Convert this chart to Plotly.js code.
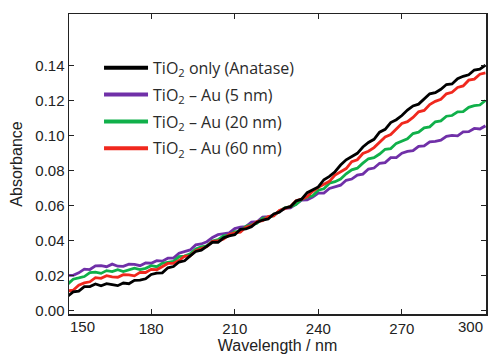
<!DOCTYPE html>
<html>
<head>
<meta charset="utf-8">
<script src="https://cdn.plot.ly/plotly-3.0.1.min.js"></script>
<style>html,body{margin:0;padding:0;background:#fff;}#chart{width:488px;height:354px;}</style>
</head>
<body>
<div id="chart"></div>
<script>
// Wavelength (nm)
const wavelength = [150,152,154,156,158,160,162,164,166,168,170,172,174,176,178,180,182,184,186,188,
  190,192,194,196,198,200,202,204,206,208,210,212,214,216,218,220,222,224,226,228,
  230,232,234,236,238,240,242,244,246,248,250,252,254,256,258,260,262,264,266,268,
  270,272,274,276,278,280,282,284,286,288,290,292,294,296,298,300];

// TiO2 only (Anatase)
const absAnatase = [0.0082,0.0107,0.0112,0.0137,0.0138,0.0153,0.0142,0.0154,0.0149,0.0143,
  0.0158,0.0154,0.0173,0.0174,0.0182,0.0207,0.0214,0.0216,0.0245,0.0252,
  0.0278,0.0285,0.0313,0.0338,0.0346,0.0366,0.0391,0.0391,0.0416,0.0427,
  0.0434,0.0464,0.0467,0.0480,0.0506,0.0518,0.0524,0.0553,0.0563,0.0587,
  0.0594,0.0627,0.0637,0.0674,0.0692,0.0707,0.0748,0.0767,0.0794,0.0832,
  0.0862,0.0880,0.0899,0.0935,0.0961,0.0979,0.1020,0.1036,0.1075,0.1091,
  0.1115,0.1146,0.1170,0.1180,0.1211,0.1239,0.1246,0.1265,0.1292,0.1295,
  0.1325,0.1339,0.1348,0.1375,0.1380,0.1403];

// TiO2 - Au (5 nm)
const absAu5 = [0.0202,0.0202,0.0216,0.0237,0.0235,0.0256,0.0257,0.0251,0.0266,0.0254,
  0.0253,0.0266,0.0264,0.0257,0.0273,0.0271,0.0286,0.0283,0.0300,0.0300,
  0.0328,0.0339,0.0347,0.0376,0.0381,0.0394,0.0418,0.0434,0.0438,0.0445,
  0.0469,0.0477,0.0480,0.0506,0.0508,0.0534,0.0537,0.0545,0.0568,0.0584,
  0.0587,0.0611,0.0632,0.0633,0.0649,0.0672,0.0672,0.0698,0.0709,0.0717,
  0.0745,0.0752,0.0775,0.0780,0.0809,0.0815,0.0842,0.0846,0.0874,0.0875,
  0.0900,0.0910,0.0914,0.0939,0.0941,0.0965,0.0967,0.0974,0.0996,0.1001,
  0.0999,0.1022,0.1023,0.1041,0.1038,0.1056];

// TiO2 - Au (20 nm)
const absAu20 = [0.0151,0.0180,0.0187,0.0195,0.0217,0.0220,0.0213,0.0229,0.0223,0.0234,
  0.0224,0.0235,0.0243,0.0235,0.0242,0.0257,0.0251,0.0271,0.0278,0.0282,
  0.0309,0.0312,0.0325,0.0352,0.0364,0.0370,0.0398,0.0406,0.0428,0.0431,
  0.0451,0.0453,0.0482,0.0492,0.0499,0.0527,0.0531,0.0543,0.0568,0.0587,
  0.0594,0.0606,0.0635,0.0648,0.0656,0.0688,0.0696,0.0728,0.0737,0.0752,
  0.0782,0.0805,0.0814,0.0843,0.0868,0.0874,0.0895,0.0922,0.0926,0.0956,
  0.0971,0.0982,0.1012,0.1020,0.1044,0.1050,0.1079,0.1084,0.1111,0.1115,
  0.1136,0.1137,0.1162,0.1171,0.1175,0.1201];

// TiO2 - Au (60 nm)
const absAu60 = [0.0113,0.0117,0.0146,0.0159,0.0165,0.0189,0.0185,0.0200,0.0193,0.0191,
  0.0206,0.0205,0.0199,0.0219,0.0218,0.0236,0.0234,0.0254,0.0270,0.0271,
  0.0286,0.0311,0.0313,0.0342,0.0356,0.0366,0.0396,0.0398,0.0410,0.0435,
  0.0444,0.0449,0.0477,0.0486,0.0509,0.0514,0.0537,0.0541,0.0572,0.0584,
  0.0595,0.0628,0.0637,0.0652,0.0682,0.0705,0.0720,0.0739,0.0775,0.0796,
  0.0812,0.0851,0.0862,0.0898,0.0911,0.0932,0.0965,0.0993,0.1006,0.1040,
  0.1070,0.1080,0.1104,0.1136,0.1144,0.1178,0.1196,0.1208,0.1239,0.1248,
  0.1275,0.1284,0.1317,0.1323,0.1351,0.1358];

const seriesNames = ['TiO<sub>2</sub> only (Anatase)', 'TiO<sub>2</sub> – Au (5 nm)',
                     'TiO<sub>2</sub> – Au (20 nm)', 'TiO<sub>2</sub> – Au (60 nm)'];
const seriesColors = ['#000000', '#7030a8', '#10b04a', '#f0281e'];
const seriesData = [absAnatase, absAu5, absAu20, absAu60];

const xTickVals = [180, 210, 240, 270];
const edgeTickLabels = ['150', '300'];
const edgeTickPos = [155.5, 294.6];
const yTickVals = [0, 0.02, 0.04, 0.06, 0.08, 0.10, 0.12, 0.14];

const tickFont = {family: 'Liberation Sans, Arial, sans-serif', size: 15, color: '#222'};

const traces = [];
// data traces (drawn: purple, green, red, black on top)
[1, 2, 3, 0].forEach(function (k) {
  traces.push({
    x: wavelength, y: seriesData[k], type: 'scatter', mode: 'lines',
    line: {color: seriesColors[k], width: 2.8}, showlegend: false, hoverinfo: 'skip'
  });
});
// legend entries
[0, 1, 2, 3].forEach(function (k) {
  traces.push({
    x: [null], y: [null], type: 'scatter', mode: 'lines', name: seriesNames[k],
    legendgroup: 'g' + k, line: {color: seriesColors[k], width: 4}
  });
});

const layout = {
  width: 488, height: 354,
  margin: {l: 69, r: 2, t: 14, b: 40, pad: 0},
  paper_bgcolor: '#fff', plot_bgcolor: '#fff',
  showlegend: true,
  legend: {
    x: 0.072, y: 0.877, xanchor: 'left', yanchor: 'top',
    bgcolor: 'rgba(0,0,0,0)', borderwidth: 0,
    font: {family: 'Open Sans, sans-serif', size: 16, color: '#2a2a2a'},
    traceorder: 'grouped', tracegroupgap: 3, itemwidth: 44
  },
  xaxis: {
    range: [150.5, 300.2], tickmode: 'array', tickvals: xTickVals,
    ticks: 'inside', ticklen: 5, tickwidth: 1, tickcolor: '#222',
    showline: true, linecolor: '#222', linewidth: 1.5, mirror: 'ticks',
    showgrid: false, zeroline: false, tickfont: tickFont,
    title: {text: 'Wavelength / nm', font: {family: 'Liberation Sans, Arial, sans-serif', size: 16, color: '#222'}, standoff: 12}
  },
  yaxis: {
    range: [-0.0019, 0.1695], tickmode: 'array', tickvals: yTickVals, tickformat: '.2f',
    ticks: 'inside', ticklen: 5, tickwidth: 1, tickcolor: '#222',
    showline: true, linecolor: '#222', linewidth: 1.5, mirror: 'ticks',
    showgrid: false, zeroline: false, tickfont: tickFont,
    title: {text: 'Absorbance', font: {family: 'Liberation Sans, Arial, sans-serif', size: 16, color: '#222'}, standoff: 8}
  },
  annotations: edgeTickLabels.map(function (t, i) {
    return {x: edgeTickPos[i], y: 0, xref: 'x', yref: 'paper', text: t, showarrow: false,
            yanchor: 'top', yshift: -2, font: tickFont};
  })
};

Plotly.newPlot('chart', traces, layout, {displayModeBar: false, staticPlot: true});
</script>
</body>
</html>
